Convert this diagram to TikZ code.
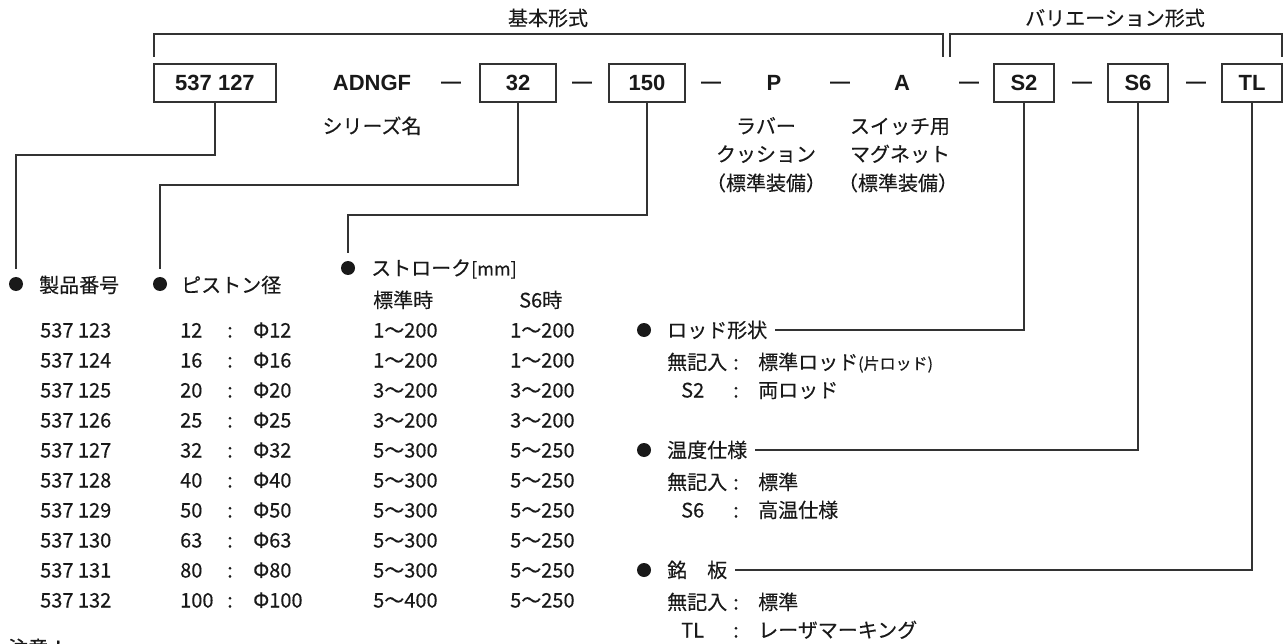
\documentclass[tikz,border=0pt]{standalone}
\usepackage{fontspec}
\setmainfont{Noto Sans CJK JP}[FakeBold=0.3]
\newfontfamily\latinbold{Liberation Sans}
\newcommand\fsz[1]{\fontsize{#1}{#1}\selectfont}
\definecolor{lc}{gray}{0.2}
\definecolor{tc}{gray}{0.1}
\begin{document}
\begin{tikzpicture}[x=1pt,y=-1pt,
  every node/.style={inner sep=0pt, text height=16pt, text depth=1pt, font=\fsz{20}, text=tc},
  lbl/.style={anchor=west},
  code/.style={font=\latinbold\bfseries\fsz{22}, text height=16pt, text depth=0pt},
  codebox/.style={code, draw=lc, line width=1.2pt, minimum height=38pt},
  dashmark/.style={font=\latinbold\bfseries\fsz{20}, text height=16pt, text depth=0pt},
  bul/.style={circle, fill=tc, minimum size=14pt, inner sep=0pt, text height=0pt, text depth=0pt},
  conn/.style={draw=lc, line width=1.1pt},
  brk/.style={draw=lc, line width=1.1pt}]
\useasboundingbox (0,0) rectangle (1287,644);

% top labels and brackets
\node (basic) at (548,18) {基本形式};
\node (vari) at (1115,18) {バリエーション形式};
\draw[brk] (154,57) -- (154,34) -- (943,34) -- (943,57);
\draw[brk] (950,57) -- (950,34) -- (1282,34) -- (1282,57);

% code row
\node[codebox, minimum width=122pt] (b1) at (215,83) {537 127};
\node[code] (series) at (372,83) {ADNGF};
\node[dashmark] (m1) at (451,81) {—};
\node[codebox, minimum width=76pt] (b2) at (518,83) {32};
\node[dashmark] (m2) at (582,81) {—};
\node[codebox, minimum width=76pt] (b3) at (647,83) {150};
\node[dashmark] (m3) at (711,81) {—};
\node[code] (cp) at (774,83) {P};
\node[dashmark] (m4) at (840,81) {—};
\node[code] (ca) at (902,83) {A};
\node[dashmark] (m5) at (969,81) {—};
\node[codebox, minimum width=60pt] (b4) at (1024,83) {S2};
\node[dashmark] (m6) at (1082,81) {—};
\node[codebox, minimum width=60pt] (b5) at (1138,83) {S6};
\node[dashmark] (m7) at (1196,81) {—};
\node[codebox, minimum width=60pt] (b6) at (1252,83) {TL};

% notes under code
\node (sname) at (372,126) {シリーズ名};
\node (p1) at (766,126) {ラバー};
\node (p2) at (766,154) {クッション};
\node (p3) at (766,183) {（標準装備）};
\node (a1) at (900,126) {スイッチ用};
\node (a2) at (900,154) {マグネット};
\node (a3) at (898,183) {（標準装備）};

% left headings
\node[bul] (d1) at (16,284) {};
\node[lbl] (h1) at (39,285) {製品番号};
\node[bul] (d2) at (160,284) {};
\node[lbl] (h2) at (181,285) {ピストン径};
\node[bul] (d3) at (348,268) {};
\node[lbl] (h3) at (371,268) {ストローク{\fsz{18}[mm]}};
\node[lbl] (h4) at (373,300) {標準時};
\node[lbl] (h5) at (519,300) {S6時};

% table
\foreach \p/\d/\s/\t [count=\i] in {537 123/12/1～200/1～200, 537 124/16/1～200/1～200,
  537 125/20/3～200/3～200, 537 126/25/3～200/3～200, 537 127/32/5～300/5～250,
  537 128/40/5～300/5～250, 537 129/50/5～300/5～250, 537 130/63/5～300/5～250,
  537 131/80/5～300/5～250, 537 132/100/5～400/5～250}{
  \node[lbl] (rp\i) at (40,{300+30*\i}) {\p};
  \node[lbl] (rn\i) at (180,{300+30*\i}) {\d};
  \node (rc\i) at (230,{300+30*\i}) {:};
  \node[lbl] (rf\i) at (253,{300+30*\i}) {Φ\d};
  \node[lbl] (rs\i) at (373,{300+30*\i}) {\s};
  \node[lbl] (rt\i) at (510,{300+30*\i}) {\t};
}

% right section
\node[bul] (e1) at (644,330) {};
\node[lbl] (rod) at (667,330) {ロッド形状};
\node[lbl] (r1a) at (667,362) {無記入};
\node (r1b) at (736,362) {:};
\node[lbl] (r1c) at (758,362) {標準ロッド{\fsz{16}(片ロッド)}};
\node[lbl] (r2a) at (681,390) {S2};
\node (r2b) at (736,390) {:};
\node[lbl] (r2c) at (758,390) {両ロッド};

\node[bul] (e2) at (644,450) {};
\node[lbl] (temp) at (667,450) {温度仕様};
\node[lbl] (r3a) at (667,482) {無記入};
\node (r3b) at (736,482) {:};
\node[lbl] (r3c) at (758,482) {標準};
\node[lbl] (r4a) at (681,510) {S6};
\node (r4b) at (736,510) {:};
\node[lbl] (r4c) at (758,510) {高温仕様};

\node[bul] (e3) at (644,570) {};
\node[lbl] (plate) at (667,570) {銘　板};
\node[lbl] (r5a) at (667,602) {無記入};
\node (r5b) at (736,602) {:};
\node[lbl] (r5c) at (758,602) {標準};
\node[lbl] (r6a) at (681,630) {TL};
\node (r6b) at (736,630) {:};
\node[lbl] (r6c) at (758,630) {レーザマーキング};

\node[lbl] (note) at (8,648) {注意！};

% connectors
\coordinate (k1) at (16,155);
\coordinate (k2) at (160,185);
\coordinate (k3) at (348,215);
\draw[conn, shorten >=8pt] (b1.south) |- (k1) -- (d1.north);
\draw[conn, shorten >=8pt] (b2.south) |- (k2) -- (d2.north);
\draw[conn, shorten >=8pt] (b3.south) |- (k3) -- (d3.north);
\draw[conn] (b4.south) |- ([xshift=8pt]rod.east);
\draw[conn] (b5.south) |- ([xshift=8pt]temp.east);
\draw[conn] (b6.south) |- ([xshift=8pt]plate.east);
\end{tikzpicture}
\end{document}
